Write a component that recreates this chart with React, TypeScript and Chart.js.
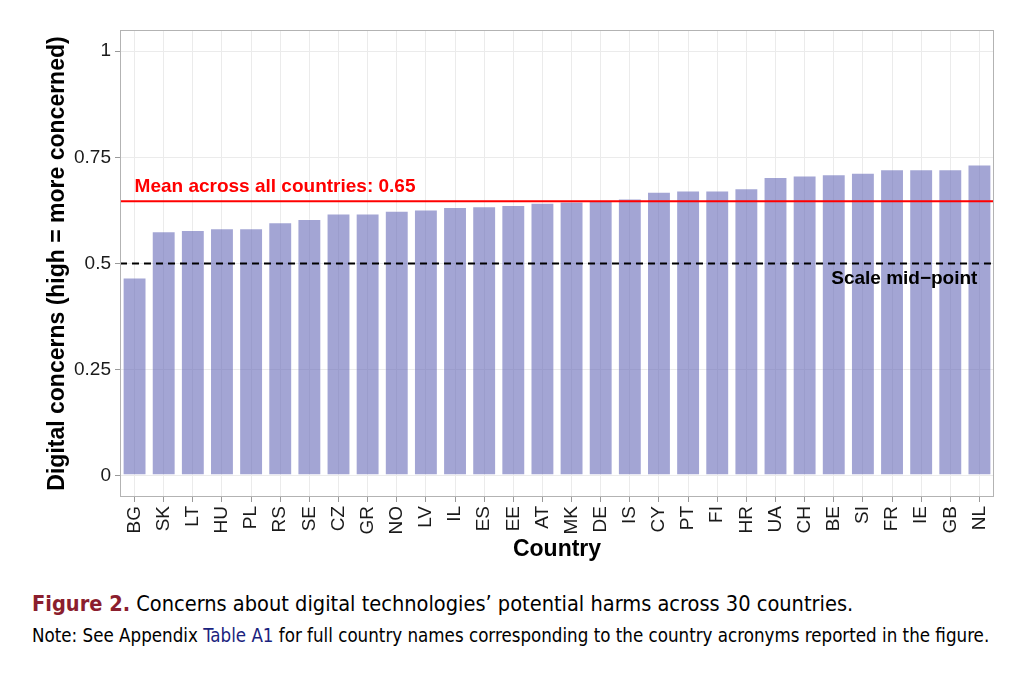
import React, { useEffect, useRef } from "react";
import { Chart, registerables } from "chart.js";

Chart.register(...registerables);

const countries = ["BG","SK","LT","HU","PL","RS","SE","CZ","GR","NO","LV","IL","ES","EE","AT","MK","DE","IS","CY","PT","FI","HR","UA","CH","BE","SI","FR","IE","GB","NL"];
const concernValues = [0.467,0.576,0.579,0.583,0.583,0.597,0.605,0.618,0.618,0.624,0.627,0.633,0.635,0.638,0.643,0.646,0.647,0.653,0.669,0.672,0.672,0.677,0.704,0.707,0.710,0.714,0.722,0.722,0.722,0.733];
const yTickValues = [0, 0.25, 0.5, 0.75, 1];
const meanValue = 0.6465;
const meanLabel = "Mean across all countries: 0.65";
const midValue = 0.5;
const midLabel = "Scale mid\u2212point";

const CHART_FONT = "'Liberation Sans', Arial, Helvetica, sans-serif";

const refLines = {
  id: "refLines",
  afterDatasetsDraw(chart: any) {
    const { ctx, chartArea, scales } = chart;
    const y = scales.y;
    const x = scales.x;
    ctx.save();
    const ym = y.getPixelForValue(meanValue);
    ctx.strokeStyle = "#ff0000";
    ctx.lineWidth = 2;
    ctx.beginPath();
    ctx.moveTo(chartArea.left, ym);
    ctx.lineTo(chartArea.right, ym);
    ctx.stroke();
    const y5 = y.getPixelForValue(midValue);
    ctx.strokeStyle = "#000000";
    ctx.setLineDash([7, 5]);
    ctx.beginPath();
    ctx.moveTo(chartArea.left, y5);
    ctx.lineTo(chartArea.right, y5);
    ctx.stroke();
    ctx.setLineDash([]);
    ctx.font = "bold 19px " + CHART_FONT;
    ctx.textBaseline = "middle";
    ctx.fillStyle = "#ff0000";
    ctx.textAlign = "left";
    ctx.fillText(meanLabel, x.getPixelForValue(0), ym - 15);
    ctx.fillStyle = "#000000";
    ctx.textAlign = "right";
    ctx.fillText(midLabel, x.getPixelForValue(countries.length - 1) - 2, y5 + 15);
    ctx.strokeStyle = "#b3b3b3";
    ctx.lineWidth = 1;
    ctx.strokeRect(chartArea.left + 0.5, chartArea.top + 0.5, chartArea.right - chartArea.left - 1, chartArea.bottom - chartArea.top - 1);
    ctx.restore();
  },
};

export default function App() {
  const canvasRef = useRef<HTMLCanvasElement | null>(null);

  useEffect(() => {
    if (!canvasRef.current) return;
    const chart = new Chart(canvasRef.current, {
      type: "bar",
      data: {
        labels: countries,
        datasets: [
          {
            data: concernValues,
            backgroundColor: "rgba(102,105,183,0.6)",
            borderColor: "rgba(255,255,255,0.3)",
            borderWidth: 1,
            borderSkipped: false,
            barPercentage: 0.82,
            categoryPercentage: 1,
          },
        ],
      },
      options: {
        responsive: false,
        animation: false,
        devicePixelRatio: 1,
        layout: { padding: { left: 44, top: 30, right: 30, bottom: 12 } },
        plugins: {
          legend: { display: false },
          tooltip: { enabled: false },
        },
        scales: {
          x: {
            offset: true,
            grid: { offset: false, color: "#ebebeb", tickColor: "#999999", tickLength: 5, lineWidth: 1 },
            border: { display: false },
            ticks: {
              color: "#1a1a1a",
              font: { family: CHART_FONT, size: 19 },
              minRotation: 90,
              maxRotation: 90,
              padding: 4,
              autoSkip: false,
            },
            title: {
              display: true,
              text: "Country",
              color: "#000000",
              font: { family: CHART_FONT, size: 23, weight: "bold" },
              padding: 0,
            },
            afterFit(scale: any) {
              scale.height = 66;
            },
          },
          y: {
            min: -0.05,
            max: 1.05,
            grid: { color: "#ebebeb", tickColor: "#999999", tickLength: 5, lineWidth: 1 },
            border: { display: false },
            afterBuildTicks(scale: any) {
              scale.ticks = yTickValues.map((v) => ({ value: v }));
            },
            ticks: {
              color: "#1a1a1a",
              font: { family: CHART_FONT, size: 19 },
              padding: 4,
              callback: (v: any) => String(v),
            },
            title: {
              display: true,
              text: "Digital concerns (high = more concerned)",
              color: "#000000",
              font: { family: CHART_FONT, size: 23, weight: "bold" },
              padding: 0,
            },
            afterFit(scale: any) {
              scale.width = 76;
            },
          },
        },
      },
      plugins: [refLines],
    });
    return () => chart.destroy();
  }, []);

  const capFont = "'Liberation Sans Narrow', 'DejaVu Sans Condensed', 'Open Sans', sans-serif";

  return (
    <div style={{ position: "absolute", left: 0, top: 0, width: 1024, height: 690, background: "#ffffff", overflow: "hidden" }}>
      <canvas ref={canvasRef} width={1024} height={575} style={{ position: "absolute", left: 0, top: 0, width: 1024, height: 575 }} />
      <div style={{ position: "absolute", left: 32, top: 590, fontFamily: capFont, fontSize: 21.6, color: "#000", whiteSpace: "nowrap", lineHeight: "28px" }}>
        <span style={{ color: "#8b1e2e", fontWeight: "bold" }}>Figure 2.</span> Concerns about digital technologies’ potential harms across 30 countries.
      </div>
      <div style={{ position: "absolute", left: 32, top: 624, fontFamily: capFont, fontSize: 18.6, color: "#000", whiteSpace: "nowrap", lineHeight: "24px" }}>
        Note: See Appendix <span style={{ color: "#1a237e" }}>Table A1</span> for full country names corresponding to the country acronyms reported in the figure.
      </div>
    </div>
  );
}
